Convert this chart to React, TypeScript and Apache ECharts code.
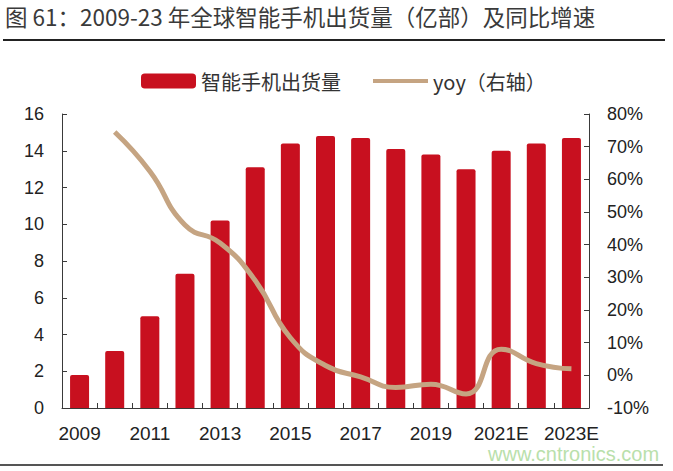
import React, { useEffect, useRef } from "react";
import * as echarts from "echarts";

const years = [
  "2009", "2010", "2011", "2012", "2013", "2014", "2015", "2016",
  "2017", "2018", "2019", "2020", "2021E", "2022E", "2023E",
];
const shipments = [1.8, 3.1, 5.0, 7.3, 10.2, 13.1, 14.4, 14.8, 14.7, 14.1, 13.8, 13.0, 14.0, 14.4, 14.7];
const yoy = [null, 74.5, 62.5, 46, 40.5, 29, 11.5, 3, -0.5, -3.7, -2.7, -5.7, 8, 3.6, 2];

const titleText = "图 61：2009-23 年全球智能手机出货量（亿部）及同比增速";
const barName = "智能手机出货量";
const lineName = "yoy（右轴）";
const watermark = "www.cntronics.com";

const CJK = "'Noto Sans CJK SC', 'Noto Sans', sans-serif";
const LAT = "'Liberation Sans', Arial, sans-serif";

export default function App() {
  const ref = useRef<HTMLDivElement>(null);
  useEffect(() => {
    if (!ref.current) return;
    const chart = echarts.init(ref.current, undefined, { renderer: "svg" });
    const axisLine = { show: true, lineStyle: { color: "#3a3a3a", width: 1 } };
    const legendText = { fontSize: 20, color: "#333", fontFamily: CJK };
    chart.setOption({
      animation: false,
      backgroundColor: "#ffffff",
      grid: { left: 62, right: 84, top: 114, bottom: 63 },
      legend: [
        {
          left: 136,
          top: 66,
          itemWidth: 55,
          itemHeight: 15,
          textStyle: legendText,
          data: [{ name: barName, icon: "roundRect" }],
        },
        {
          left: 368,
          top: 66,
          itemWidth: 55,
          itemHeight: 4,
          textStyle: legendText,
          data: [{ name: lineName, icon: "rect" }],
        },
      ],
      xAxis: {
        type: "category",
        data: years,
        axisLine,
        axisTick: { show: true, inside: true, length: 5, interval: 0, lineStyle: { color: "#3a3a3a" } },
        axisLabel: { interval: 1, fontSize: 19, color: "#222", fontFamily: LAT, margin: 16 },
      },
      yAxis: [
        {
          type: "value",
          min: 0,
          max: 16,
          interval: 2,
          axisLine,
          axisTick: { show: true, inside: true, length: 5, lineStyle: { color: "#3a3a3a" } },
          splitLine: { show: false },
          axisLabel: { fontSize: 18, color: "#222", fontFamily: LAT, margin: 18 },
        },
        {
          type: "value",
          min: -10,
          max: 80,
          interval: 10,
          axisLine,
          axisTick: { show: true, inside: true, length: 5, lineStyle: { color: "#3a3a3a" } },
          splitLine: { show: false },
          axisLabel: { fontSize: 18, color: "#222", fontFamily: LAT, margin: 18, formatter: "{value}%" },
        },
      ],
      series: [
        {
          name: barName,
          type: "bar",
          data: shipments,
          barWidth: 19,
          itemStyle: { color: "#C8101F", borderRadius: [2, 2, 0, 0] },
        },
        {
          name: lineName,
          type: "line",
          yAxisIndex: 1,
          data: yoy,
          smooth: 0.5,
          symbol: "none",
          lineStyle: { width: 5, color: "#C5A482" },
          itemStyle: { color: "#C5A482" },
          z: 5,
        },
      ],
      graphic: [
        {
          type: "text",
          left: 5,
          top: 5,
          style: { text: titleText, fontSize: 22.5, fill: "#3a3a3a", fontFamily: CJK },
        },
        {
          type: "line",
          shape: { x1: 3, y1: 40, x2: 665, y2: 40 },
          style: { stroke: "#222", lineWidth: 2 },
        },
        {
          type: "line",
          shape: { x1: 0, y1: 465, x2: 663, y2: 465 },
          style: { stroke: "#555", lineWidth: 2 },
        },
        {
          type: "text",
          left: 488,
          top: 444,
          style: { text: watermark, fontSize: 20, fill: "#b9e0ab", fontFamily: LAT },
          z: 10,
        },
      ],
    });
    return () => chart.dispose();
  }, []);
  return (
    <div
      ref={ref}
      style={{ position: "fixed", left: 0, top: 0, width: 673, height: 471 }}
    />
  );
}
